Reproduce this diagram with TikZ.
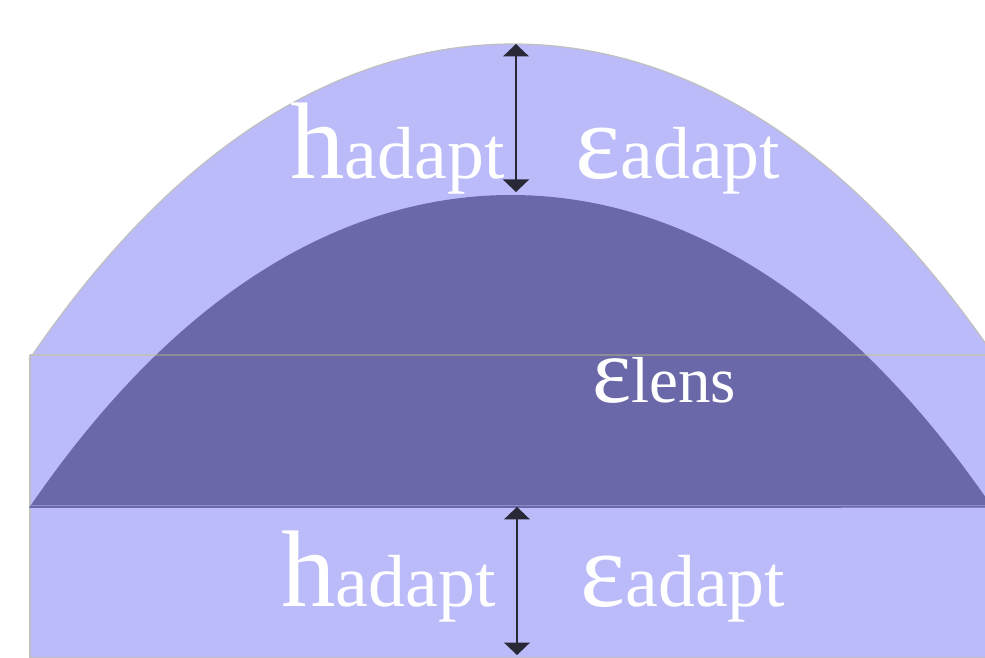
\documentclass[tikz,border=0pt]{standalone}
\usepackage{fontspec}
\setmainfont{Liberation Serif}
\usetikzlibrary{arrows.meta}

\definecolor{adaptblue}{RGB}{187,187,250}
\definecolor{lensblue}{RGB}{106,104,168}
\definecolor{rimgray}{RGB}{192,192,192}
\definecolor{seamdark}{RGB}{140,140,150}
\definecolor{arrowgray}{RGB}{40,40,55}

\tikzset{
  layer/.style={fill=adaptblue},
  rim/.style={draw=rimgray, line width=0.7pt},
  dimarrow/.style={arrowgray, line width=0.6pt,
    {Triangle[width=0.52cm,length=0.25cm]}-{Triangle[width=0.52cm,length=0.25cm]}},
  label/.style={text=white, inner sep=0pt, anchor=base west},
}

% lens profile in pixel units, u = horizontal offset / 100
\newcommand{\lensprof}[1]{11.78*(#1)*(#1) + 0.0728*(#1)*(#1)*(#1)*(#1)}

\begin{document}
\begin{tikzpicture}[x=0.02cm, y=-0.02cm]
  \useasboundingbox (0,0) rectangle (985,658);
  \clip (0,0) rectangle (985,658);

  % upper adaptation layer (dome)
  \fill[layer] plot[domain=-4.84:5.2, samples=120] ({513+100*\x}, {44 + \lensprof{\x}})
     -- (1030,355) -- (30,355) -- cycle;
  \draw[rim] plot[domain=-4.84:5.2, samples=120] ({513+100*\x}, {44 + \lensprof{\x}});

  % lower adaptation layer (slab)
  \fill[layer] (30,355) rectangle (1000,658);
  \draw[rim, line width=1pt] (30,355) -- (30,658) -- (1000,658);

  % lens body
  \fill[lensblue] plot[domain=-4.82:4.82, samples=120] ({511+100*\x}, {195 + \lensprof{\x}})
     -- cycle;
  \draw[adaptblue!45!lensblue, line width=0.3pt] (30,505) -- (1000,505);

  % seam between the two adaptation layers
  \draw[rimgray, line width=1.6pt] (30,355) -- (1000,355);
  \begin{scope}
    \clip plot[domain=-4.82:4.82, samples=120] ({511+100*\x}, {195 + \lensprof{\x}}) -- cycle;
    \draw[seamdark, line width=1.6pt] (30,355) -- (1000,355);
  \end{scope}

  % thickness arrows
  \coordinate (topA) at (516,44);
  \coordinate (topB) at (516,192);
  \coordinate (botA) at (517,507);
  \coordinate (botB) at (517,655);
  \draw[dimarrow] (topA) -- (topB);
  \draw[dimarrow] (botA) -- (botB);

  % labels
  \node[label] (htop) at (290,179) {\fontsize{62}{62}\selectfont h\fontsize{42}{42}\selectfont adapt};
  \node[label] (etop) at (575,179) {\fontsize{61}{61}\selectfont ε\fontsize{42}{42}\selectfont adapt};
  \node[label] (elens) at (592,403) {\fontsize{53}{53}\selectfont ε\fontsize{37}{37}\selectfont lens};
  \node[label] (hbot) at (281,607) {\fontsize{62}{62}\selectfont h\fontsize{42}{42}\selectfont adapt};
  \node[label] (ebot) at (580,607) {\fontsize{61}{61}\selectfont ε\fontsize{42}{42}\selectfont adapt};
\end{tikzpicture}
\end{document}
